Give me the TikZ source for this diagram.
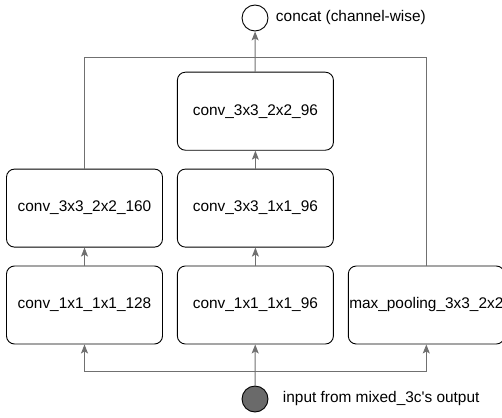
\documentclass[tikz,border=0pt]{standalone}
\usepackage{fontspec}
\setmainfont{Liberation Sans}
\usetikzlibrary{arrows.meta,positioning}
\definecolor{wire}{HTML}{707070}
\definecolor{dot}{HTML}{6A6A6A}

\begin{document}
\begin{tikzpicture}[
  x=1pt,y=-1pt,
  node distance=18pt and 14pt,
  box/.style={draw,rounded corners=8pt,minimum width=156pt,minimum height=78pt,align=center,inner sep=0pt,font=\fontsize{15.4}{18}\selectfont,line width=0.9pt},
  port/.style={draw,circle,minimum size=26pt,inner sep=0pt,line width=0.9pt},
  label/.style={anchor=west,font=\fontsize{15.4}{18}\selectfont},
  flow/.style={-{Stealth[length=9pt,width=7pt,inset=2pt]},draw=wire,line width=1pt},
  wireline/.style={draw=wire,line width=1pt}
]
  \useasboundingbox (0,0) rectangle (502,417);
  \node[box] (conv1a) at (84.5,305) {conv\_1x1\_1x1\_128};
  \node[box,right=of conv1a] (conv1b) {conv\_1x1\_1x1\_96};
  \node[box,right=of conv1b] (pool) {max\_pooling\_3x3\_2x2};
  \node[box,above=of conv1a] (conv3a) {conv\_3x3\_2x2\_160};
  \node[box,above=of conv1b] (conv3b) {conv\_3x3\_1x1\_96};
  \node[box,above=of conv3b] (conv3c) {conv\_3x3\_2x2\_96};
  \node[port] (concat) at (255,18) {};
  \node[label,right=4pt of concat] (concatlbl) {concat (channel-wise)};
  \node[port,fill=dot] (input) at (255,399) {};
  \node[label,right=11pt of input] (inputlbl) {input from mixed\_3c\textquotesingle s output};
  \coordinate (fork) at (255,371);
  \coordinate (merge) at (255,58);
  % input side
  \draw[flow] (input) -- (conv1b);
  \draw[flow] (fork) -| (conv1a);
  \draw[flow] (fork) -| (pool);
  % branches
  \draw[flow] (conv1a) -- (conv3a);
  \draw[flow] (conv1b) -- (conv3b);
  \draw[flow] (conv3b) -- (conv3c);
  % output side
  \draw[wireline] (conv3a.north) |- (merge);
  \draw[wireline] (pool.north) |- (merge);
  \draw[flow] (conv3c) -- (concat);
\end{tikzpicture}
\end{document}
